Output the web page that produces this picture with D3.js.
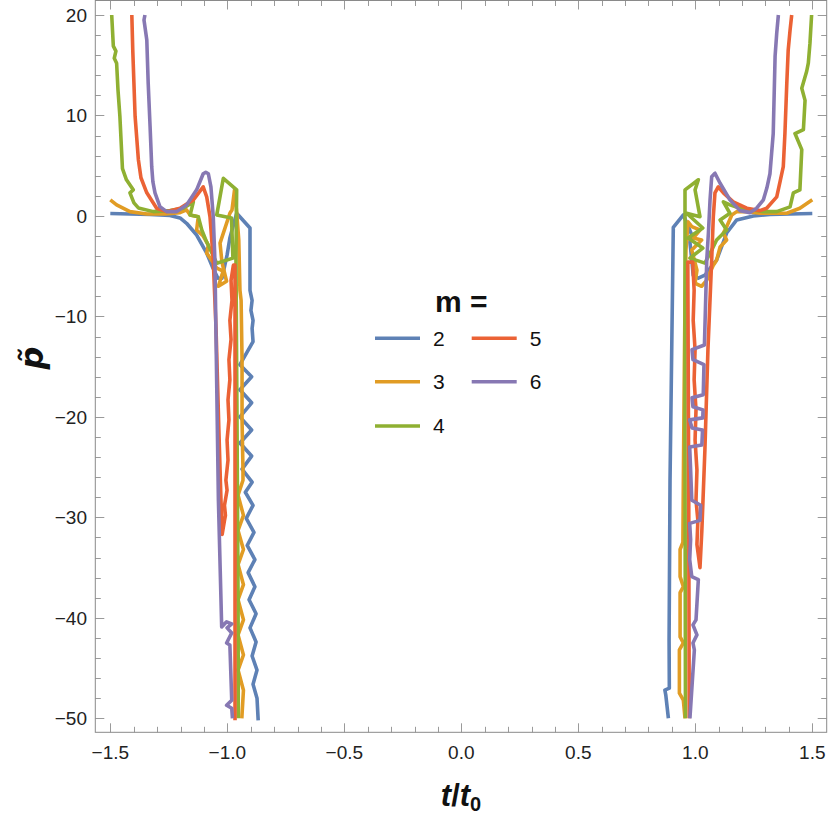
<!DOCTYPE html>
<html><head><meta charset="utf-8">
<script src="https://d3js.org/d3.v7.min.js"></script>
<style>body{margin:0;background:#fff}</style>
</head><body>
<svg id="c" width="830" height="818"></svg>
<script>
// ---------- data ----------
const mValues = [2, 3, 4, 5, 6];
const colors = ["#5E81B5", "#E19C24", "#8FB032", "#EB6235", "#8778B3"];
const xTicks = [-1.5, -1.0, -0.5, 0.0, 0.5, 1.0, 1.5];
const xTickLabels = ["\u22121.5", "\u22121.0", "\u22120.5", "0.0", "0.5", "1.0", "1.5"];
const yTicks = [20, 10, 0, -10, -20, -30, -40, -50];
const yTickLabels = ["20", "10", "0", "\u221210", "\u221220", "\u221230", "\u221240", "\u221250"];

const m2Left = [[-1.50,0.25],[-1.416,0.2],[-1.331,0.15],[-1.245,0.05],[-1.202,-0.2],[-1.174,-0.73],[-1.131,-1.9],[-1.088,-3.7],[-1.061,-5.2],[-1.040,-6.2],[-1.023,-6.2],[-1.001,-3.9],[-0.989,-2.2],[-0.960,0.27],[-0.903,-1.2],[-0.903,-7.4],[-0.894,-8.4],[-0.899,-9.4],[-0.890,-10.4],[-0.894,-11.2],[-0.890,-12.5],[-0.946,-14.8],[-0.896,-16.0],[-0.946,-17.3],[-0.896,-18.6],[-0.946,-20.0],[-0.896,-21.3],[-0.946,-22.6],[-0.896,-23.9],[-0.937,-25.2],[-0.894,-26.5],[-0.923,-27.5],[-0.890,-28.8],[-0.919,-30.1],[-0.886,-31.5],[-0.915,-32.8],[-0.882,-34.2],[-0.911,-35.5],[-0.882,-36.9],[-0.907,-38.2],[-0.877,-39.6],[-0.903,-41.0],[-0.877,-42.4],[-0.894,-43.8],[-0.873,-45.2],[-0.890,-46.6],[-0.873,-48.0],[-0.868,-50.2]];
const m2Right = [[1.50,0.25],[1.405,0.2],[1.319,0.15],[1.248,0.0],[1.177,-0.4],[1.134,-1.7],[1.091,-4.4],[1.070,-5.0],[1.041,-5.9],[1.013,-6.2],[0.991,-5.9],[0.985,-4.4],[0.977,-2.6],[0.985,-1.9],[0.949,0.1],[0.906,-1.15],[0.892,-26.3],[0.888,-42.2],[0.889,-47.0],[0.870,-47.2],[0.874,-47.7],[0.885,-50.0]];

const m3Left = [[-1.50,1.6],[-1.473,1.1],[-1.416,0.43],[-1.344,0.2],[-1.266,0.2],[-1.202,0.33],[-1.174,0.6],[-1.159,0.1],[-1.124,-0.07],[-1.131,-1.4],[-1.103,-2.0],[-1.081,-2.9],[-1.088,-3.7],[-1.061,-4.6],[-1.045,-5.2],[-1.018,-5.5],[-1.038,-7.0],[-1.003,-6.5],[-1.023,-4.6],[-1.031,-2.7],[-0.989,0.27],[-0.980,0.6],[-0.969,2.6],[-0.960,0.4],[-0.951,-2.4],[-0.946,-7.4],[-0.941,-8.4],[-0.937,-14.3],[-0.937,-20.3],[-0.933,-25.3],[-0.933,-26.3],[-0.954,-27.8],[-0.931,-29.8],[-0.954,-31.3],[-0.931,-33.2],[-0.954,-34.7],[-0.931,-36.7],[-0.954,-38.2],[-0.931,-40.2],[-0.954,-41.7],[-0.931,-43.7],[-0.954,-45.2],[-0.931,-47.2],[-0.938,-50.0]];
const m3Right = [[1.50,1.6],[1.447,0.77],[1.391,0.27],[1.276,0.27],[1.220,0.43],[1.177,0.43],[1.156,0.1],[1.134,-1.07],[1.120,-1.7],[1.134,-2.4],[1.106,-3.1],[1.091,-4.4],[1.077,-4.9],[1.063,-5.6],[1.049,-6.4],[1.027,-7.0],[0.999,-6.7],[1.007,-5.4],[0.985,-3.4],[1.027,-2.4],[0.991,-2.2],[1.020,-1.4],[0.985,-1.07],[0.969,-0.6],[0.960,-3.4],[0.956,-8.4],[0.952,-18.3],[0.949,-26.3],[0.947,-32.5],[0.935,-33.2],[0.935,-35.9],[0.949,-36.9],[0.935,-37.5],[0.935,-41.9],[0.949,-42.5],[0.932,-43.2],[0.932,-47.5],[0.949,-48.2],[0.956,-50.0]];

const m4Left = [[-1.494,20],[-1.487,16.9],[-1.476,16.4],[-1.483,15.7],[-1.473,15.2],[-1.467,12.5],[-1.459,9.9],[-1.448,4.7],[-1.431,3.6],[-1.402,2.6],[-1.416,2.3],[-1.399,1.3],[-1.380,0.8],[-1.316,0.43],[-1.245,0.53],[-1.188,0.77],[-1.145,1.4],[-1.159,0.1],[-1.124,-0.07],[-1.109,-1.4],[-1.088,-2.6],[-1.045,-4.7],[-0.976,-4.2],[-0.982,-0.2],[-1.045,0.1],[-1.017,3.75],[-0.960,2.6],[-0.963,-4.2],[-0.959,-18.3],[-0.954,-38.2],[-0.953,-50.0]];
const m4Right = [[1.497,20],[1.490,17.2],[1.483,15.2],[1.476,14.4],[1.455,12.7],[1.469,11.5],[1.462,8.6],[1.426,8.2],[1.455,6.6],[1.447,2.6],[1.419,2.3],[1.405,0.9],[1.348,0.43],[1.291,0.43],[1.248,0.6],[1.191,0.77],[1.148,1.1],[1.120,1.4],[1.148,0.27],[1.106,-0.4],[1.134,-1.4],[1.091,-2.4],[1.070,-3.4],[1.041,-4.7],[0.977,-4.2],[1.032,-3.2],[0.969,-2.2],[1.032,-1.2],[0.963,0.27],[1.020,-0.07],[0.999,2.6],[1.013,3.6],[0.956,2.6],[0.956,-4.4],[0.956,-23.3],[0.958,-50]];

const m5Left = [[-1.408,20],[-1.404,16.5],[-1.394,9.9],[-1.380,5.6],[-1.369,3.8],[-1.344,2.3],[-1.302,0.77],[-1.259,0.43],[-1.202,0.77],[-1.145,1.6],[-1.103,2.9],[-1.088,1.9],[-1.074,-0.07],[-1.060,-4.4],[-1.048,-11.3],[-1.036,-21.3],[-1.027,-28.3],[-1.022,-31.7],[-1.012,-30.3],[-1.008,-29.8],[-1.012,-28.8],[-1.001,-27.3],[-1.006,-26.3],[-0.997,-24.3],[-1.001,-22.3],[-0.993,-20.3],[-0.997,-18.3],[-0.989,-16.3],[-0.993,-14.3],[-0.984,-12.3],[-0.989,-10.4],[-0.980,-8.4],[-0.984,-6.4],[-0.974,-4.9],[-0.967,-4.9],[-0.967,-28.3],[-0.967,-50.2]];
const m5Right = [[1.412,20],[1.405,18.5],[1.397,16.5],[1.391,13.2],[1.383,8.2],[1.376,4.9],[1.362,3.4],[1.348,1.9],[1.305,0.77],[1.276,0.53],[1.220,0.77],[1.162,1.4],[1.120,2.3],[1.098,2.9],[1.084,2.3],[1.077,-0.07],[1.070,-4.4],[1.054,-13.3],[1.041,-23.3],[1.028,-31.3],[1.020,-35.0],[1.007,-32.7],[1.011,-30.3],[1.003,-28.3],[1.007,-25.3],[0.999,-22.3],[1.003,-19.3],[0.995,-16.3],[0.999,-13.3],[0.991,-10.4],[0.995,-7.4],[0.989,-4.6],[0.968,-4.6],[0.972,-28.3],[0.974,-50]];

const m6Left = [[-1.352,20],[-1.356,19.5],[-1.344,17.5],[-1.338,13.2],[-1.330,8.9],[-1.323,4.9],[-1.318,3.4],[-1.309,2.3],[-1.288,0.93],[-1.259,0.43],[-1.216,0.43],[-1.174,1.1],[-1.131,2.6],[-1.103,4.2],[-1.092,4.35],[-1.081,4.2],[-1.070,2.9],[-1.060,-0.07],[-1.053,-4.4],[-1.038,-28.3],[-1.024,-40.9],[-1.003,-40.4],[-0.981,-40.6],[-1.001,-41.0],[-0.981,-41.5],[-1.003,-42.5],[-0.989,-42.7],[-0.981,-48.2],[-1.003,-48.7],[-0.981,-49.0],[-0.978,-50]];
const m6Right = [[1.355,20],[1.348,18.2],[1.341,15.9],[1.333,8.2],[1.319,4.2],[1.306,2.8],[1.291,1.6],[1.262,0.77],[1.234,0.33],[1.191,0.53],[1.148,1.6],[1.106,3.25],[1.084,4.25],[1.070,3.9],[1.063,1.6],[1.056,-1.7],[1.049,-4.4],[1.039,-12.85],[0.986,-13.3],[0.990,-14.3],[1.037,-14.8],[1.034,-17.8],[0.986,-18.1],[0.990,-19.0],[1.033,-19.3],[1.032,-20.1],[0.976,-20.3],[0.986,-21.1],[1.031,-21.3],[1.028,-22.8],[0.976,-23.0],[0.980,-25.3],[0.985,-28.3],[1.023,-28.8],[1.020,-30.3],[0.976,-30.6],[0.980,-32.2],[0.976,-34.2],[0.985,-35.9],[1.013,-36.2],[1.003,-40.2],[0.990,-40.7],[1.007,-41.7],[0.990,-42.5],[0.996,-43.2],[0.977,-50]];

const seriesBranches = [
  [m2Left, m2Right], [m3Left, m3Right], [m4Left, m4Right], [m5Left, m5Right], [m6Left, m6Right]
];

// ---------- layout ----------
const svg = d3.select("#c");
const frame = {left: 95.3, right: 826.7, top: 0.5, bottom: 732.3};
const x = d3.scaleLinear().domain([-1.5, 1.5]).range([110.3, 812.3]);
const y = d3.scaleLinear().domain([20, -50]).range([15, 718.3]);
const frameCol = "#8a8a8a", tickCol = "#9a9a9a", textCol = "#222";
const font = "'Liberation Sans', Arial, Helvetica, sans-serif";

svg.append("rect").attr("width", 830).attr("height", 818).attr("fill", "#fff");

svg.append("defs").append("clipPath").attr("id", "clip")
  .append("rect").attr("x", frame.left).attr("y", frame.top)
  .attr("width", frame.right - frame.left).attr("height", frame.bottom - frame.top);

// ticks
const gT = svg.append("g").attr("stroke", tickCol).attr("stroke-width", 1);
const xMinor = d3.range(-15, 16).map(i => i / 10);
xMinor.forEach(v => {
  const major = Math.abs(Math.round(v * 10) % 5) === 0;
  const len = major ? 9 : 5.5;
  const px = Math.round(x(v)) + 0.5;
  gT.append("line").attr("x1", px).attr("x2", px).attr("y1", frame.bottom).attr("y2", frame.bottom - len);
  gT.append("line").attr("x1", px).attr("x2", px).attr("y1", frame.top).attr("y2", frame.top + len);
});
const yMinor = d3.range(-25, 11).map(i => i * 2);
yMinor.forEach(v => {
  const major = v % 10 === 0;
  const len = major ? 9 : 5.5;
  const py = Math.round(y(v)) + 0.5;
  gT.append("line").attr("y1", py).attr("y2", py).attr("x1", frame.left).attr("x2", frame.left + len);
  gT.append("line").attr("y1", py).attr("y2", py).attr("x1", frame.right).attr("x2", frame.right - len);
});

// frame
svg.append("rect").attr("x", frame.left).attr("y", frame.top)
  .attr("width", frame.right - frame.left).attr("height", frame.bottom - frame.top)
  .attr("fill", "none").attr("stroke", frameCol).attr("stroke-width", 1);

// tick labels
svg.append("g").selectAll("text").data(xTicks).join("text")
  .attr("x", d => x(d)).attr("y", 759).attr("text-anchor", "middle")
  .attr("font-family", font).attr("font-size", 19).attr("fill", textCol)
  .text((d, i) => xTickLabels[i]);
svg.append("g").selectAll("text").data(yTicks).join("text")
  .attr("x", 87).attr("y", d => y(d) + 6.8).attr("text-anchor", "end")
  .attr("font-family", font).attr("font-size", 19).attr("fill", textCol)
  .text((d, i) => yTickLabels[i]);

// curves
const line = d3.line().x(d => x(d[0])).y(d => y(d[1]));
const gP = svg.append("g").attr("clip-path", "url(#clip)");
seriesBranches.forEach((branches, i) => {
  branches.forEach(b => {
    gP.append("path").attr("d", line(b)).attr("fill", "none")
      .attr("stroke", colors[i]).attr("stroke-width", 3.6)
      .attr("stroke-linejoin", "round").attr("stroke-linecap", "butt");
  });
});

// legend
const lg = svg.append("g");
lg.append("text").attr("x", 435).attr("y", 312).attr("font-family", font)
  .attr("font-weight", "bold").attr("font-size", 30).attr("fill", "#111").text("m =");
const legendPos = [[375, 338.3], [375, 381.7], [375, 426], [471.7, 338.3], [471.7, 381.7]];
mValues.forEach((m, i) => {
  const [lx, ly] = legendPos[i];
  lg.append("line").attr("x1", lx).attr("x2", lx + 45).attr("y1", ly).attr("y2", ly)
    .attr("stroke", colors[i]).attr("stroke-width", 3.5);
  lg.append("text").attr("x", lx + 58).attr("y", ly + 7.4).attr("font-family", font)
    .attr("font-size", 21).attr("fill", "#111").text(m);
});

// axis titles
const xt = svg.append("text").attr("x", 461).attr("y", 806).attr("text-anchor", "middle")
  .attr("font-family", font).attr("font-weight", "bold").attr("font-size", 31).attr("fill", "#111");
xt.append("tspan").attr("font-style", "italic").text("t");
xt.append("tspan").text("/");
xt.append("tspan").attr("font-style", "italic").text("t");
xt.append("tspan").attr("font-size", 20).attr("dy", 5).text("0");

svg.append("text").attr("transform", "translate(43,358) rotate(-90)")
  .attr("text-anchor", "middle").attr("font-family", "'DejaVu Sans', sans-serif")
  .attr("font-weight", "bold").attr("font-style", "italic").attr("font-size", 32)
  .attr("fill", "#111").text("p\u0303");
</script>
</body></html>
